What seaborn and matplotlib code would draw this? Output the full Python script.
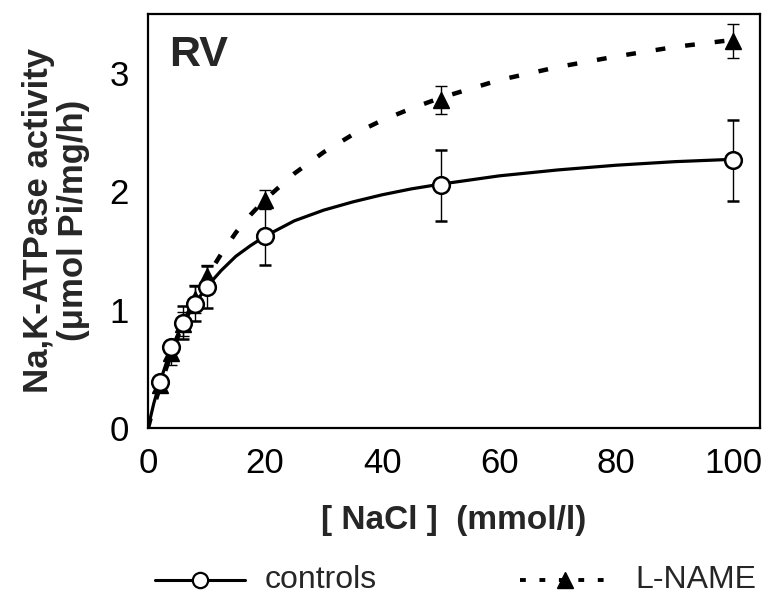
import numpy as np
import pandas as pd
import matplotlib
matplotlib.use("Agg")
import matplotlib.pyplot as plt
from matplotlib.lines import Line2D
import seaborn as sns

# measured points
nacl = [2, 4, 6, 8, 10, 20, 50, 100]
ctrl_mean = [0.39, 0.68, 0.89, 1.05, 1.19, 1.62, 2.05, 2.26]
ctrl_sem = [0.03, 0.05, 0.14, 0.15, 0.18, 0.24, 0.30, 0.34]
lname_mean = [0.36, 0.63, 0.88, 1.09, 1.28, 1.93, 2.77, 3.27]
lname_sem = [0.03, 0.10, 0.10, 0.12, 0.10, 0.08, 0.12, 0.14]

# fitted curves
curve_x = [0, 1, 2, 3, 4, 5, 6, 8, 10, 12.5, 15, 17.5, 20, 25, 30, 35, 40, 45,
           50, 60, 70, 80, 90, 100]
ctrl_curve = [0, 0.21, 0.38, 0.53, 0.67, 0.78, 0.88, 1.05, 1.19, 1.33, 1.45,
              1.54, 1.62, 1.75, 1.84, 1.91, 1.97, 2.02, 2.06, 2.13, 2.18, 2.22,
              2.25, 2.27]
lname_curve = [0, 0.18, 0.34, 0.49, 0.63, 0.76, 0.88, 1.09, 1.27, 1.47, 1.65,
               1.80, 1.93, 2.15, 2.33, 2.48, 2.60, 2.70, 2.79, 2.94, 3.05, 3.14,
               3.22, 3.28]

sns.set_style("white")
plt.rcParams['font.family'] = ['Liberation Sans', 'DejaVu Sans']

fig = plt.figure(figsize=(7.69, 6.0), dpi=100)
ax = fig.add_axes([0.1925, 0.287, 0.7955, 0.690])

curves = pd.DataFrame({'x': curve_x, 'controls': ctrl_curve, 'L-NAME': lname_curve})
sns.lineplot(data=curves, x='x', y='L-NAME', ax=ax, color='black', lw=3.2,
             zorder=2).lines[-1].set_dashes([2.2, 4.5])
sns.lineplot(data=curves, x='x', y='controls', ax=ax, color='black', lw=2.3, zorder=3)

ax.errorbar(nacl, lname_mean, yerr=lname_sem, fmt='^', ms=12, mfc='black',
            mec='black', ecolor='black', elinewidth=1, capsize=4, capthick=1, zorder=4)
ax.errorbar(nacl, ctrl_mean, yerr=ctrl_sem, fmt='o', ms=12, mfc='white',
            mec='black', mew=1.8, ecolor='black', elinewidth=1, capsize=4,
            capthick=1, zorder=5)

ax.set_xlim(0, 104.5)
ax.set_ylim(0, 3.5)
ax.set_xticks([0, 20, 40, 60, 80, 100])
ax.set_yticks([0, 1, 2, 3])
ax.tick_params(direction='in', length=9, width=1.2, labelsize=25, pad=14,
               colors='black')
for s in ax.spines.values():
    s.set_color('black')
    s.set_linewidth(1.6)

ax.set_xlabel('[ NaCl ]  (mmol/l)', fontsize=24, fontweight='bold', labelpad=18)
ax.set_ylabel('Na,K-ATPase activity\n(\u03bcmol Pi/mg/h)', fontsize=25,
              fontweight='bold', labelpad=14, linespacing=1.05)
ax.text(0.035, 0.95, 'RV', transform=ax.transAxes, fontsize=31,
        fontweight='bold', va='top')

# legend below the plot, drawn in figure coordinates
ly = 20 / 600
fig.add_artist(Line2D([155 / 769, 245 / 769], [ly, ly], color='black', lw=2.2,
                      transform=fig.transFigure))
fig.add_artist(Line2D([200 / 769], [ly], marker='o', ms=11, mfc='white',
                      mec='black', mew=1.6, transform=fig.transFigure))
fig.text(265 / 769, ly, 'controls', fontsize=23, va='center', ha='left')
fig.add_artist(Line2D([520 / 769, 612 / 769], [ly, ly], color='black', lw=2.8,
                      dashes=[1.5, 3.5], transform=fig.transFigure))
fig.add_artist(Line2D([565 / 769], [ly], marker='^', ms=11, mfc='black',
                      mec='black', transform=fig.transFigure))
fig.text(635 / 769, ly, 'L-NAME', fontsize=23, va='center', ha='left')

fig.savefig('out.png', dpi=100)
